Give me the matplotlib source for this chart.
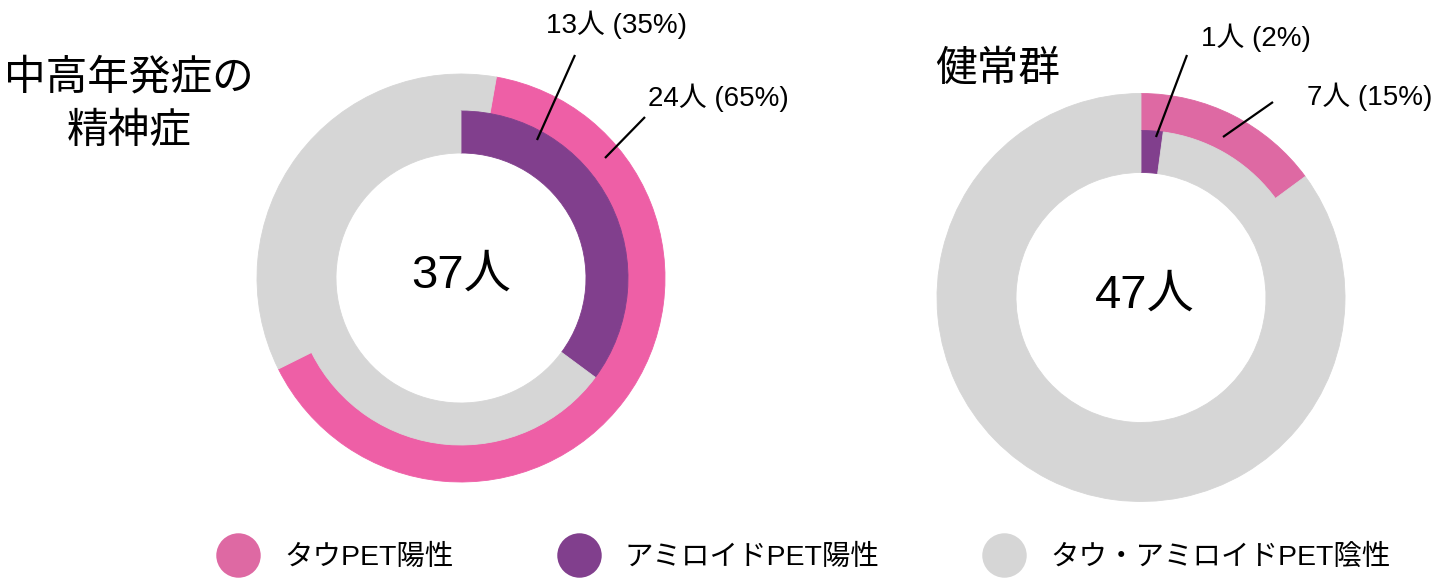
import matplotlib
matplotlib.use('Agg')
import matplotlib.pyplot as plt
from matplotlib.lines import Line2D

plt.rcParams['font.family'] = ['Liberation Sans', 'Noto Sans CJK JP', 'DejaVu Sans']

# data
groups = ['中高年発症の\n精神症', '健常群']
totals = [37, 47]
tau_pos = [24, 7]
amy_pos = [13, 1]
legend_labels = ['タウPET陽性', 'アミロイドPET陽性', 'タウ・アミロイドPET陰性']

pink = ['#EE5FA6', '#DE69A3']
purple = '#813F8D'
gray = '#D6D6D6'

W, H = 1440, 585
fig = plt.figure(figsize=(W / 100, H / 100), dpi=100)
ax = fig.add_axes([0, 0, 1, 1])

# layout in pixels (y up)
centers = [(461, 307), (1141, 287.5)]
starts = [80, 90]
r_out, r_mid, r_in = 204, 167, 125

for i in range(2):
    n = totals[i]
    outer, _ = ax.pie([tau_pos[i], n - tau_pos[i]], colors=[pink[i], gray],
                      radius=r_out, center=centers[i], startangle=starts[i],
                      counterclock=False, wedgeprops=dict(width=r_out - r_mid))
    inner, _ = ax.pie([amy_pos[i], n - amy_pos[i]], colors=[purple, gray],
                      radius=r_mid, center=centers[i], startangle=90,
                      counterclock=False, wedgeprops=dict(width=r_mid - r_in))
    # fill the hairline seams between wedges/rings
    for w in outer + inner:
        w.set_edgecolor(w.get_facecolor())
        w.set_linewidth(0.6)
    cx, cy = centers[i]
    ax.text(cx + 4 * i, cy + 2, f'{n}人', ha='center', va='center', fontsize=34)

def pct(k, n):
    return f'{k}人 ({round(100 * k / n)}%)'

# callouts: (text, text pos, ha, line start, line end)
callouts = [
    (pct(amy_pos[0], totals[0]), (617, 560), 'center', (575, 530), (537, 445)),
    (pct(tau_pos[0], totals[0]), (648, 487), 'left', (645, 468), (605, 427)),
    (pct(amy_pos[1], totals[1]), (1256, 547), 'center', (1187, 530), (1156, 448)),
    (pct(tau_pos[1], totals[1]), (1307, 488), 'left', (1273, 483), (1223, 448)),
]
for txt, pos, ha, p0, p1 in callouts:
    ax.text(pos[0], pos[1], txt, ha=ha, va='center', fontsize=20)
    ax.plot([p0[0], p1[0]], [p0[1], p1[1]], color='black', lw=1.6,
            solid_capstyle='butt')

ax.text(129, 480, groups[0], ha='center', va='center', fontsize=30,
        linespacing=1.45, multialignment='center')
ax.text(935, 515, groups[1], ha='left', va='center', fontsize=30)

ax.set_xlim(0, W)
ax.set_ylim(0, H)
ax.set_aspect('equal')
ax.axis('off')

handles = [Line2D([], [], marker='o', ls='', markersize=32, color=c,
                  markeredgewidth=0)
           for c in [pink[1], purple, gray]]
fig.legend(handles, legend_labels, loc='center', bbox_to_anchor=(803 / W, 27 / H),
           ncol=3, frameon=False, fontsize=20.5, handletextpad=0.8,
           columnspacing=3.6, handlelength=1.6)

fig.savefig('out.png', dpi=100)
